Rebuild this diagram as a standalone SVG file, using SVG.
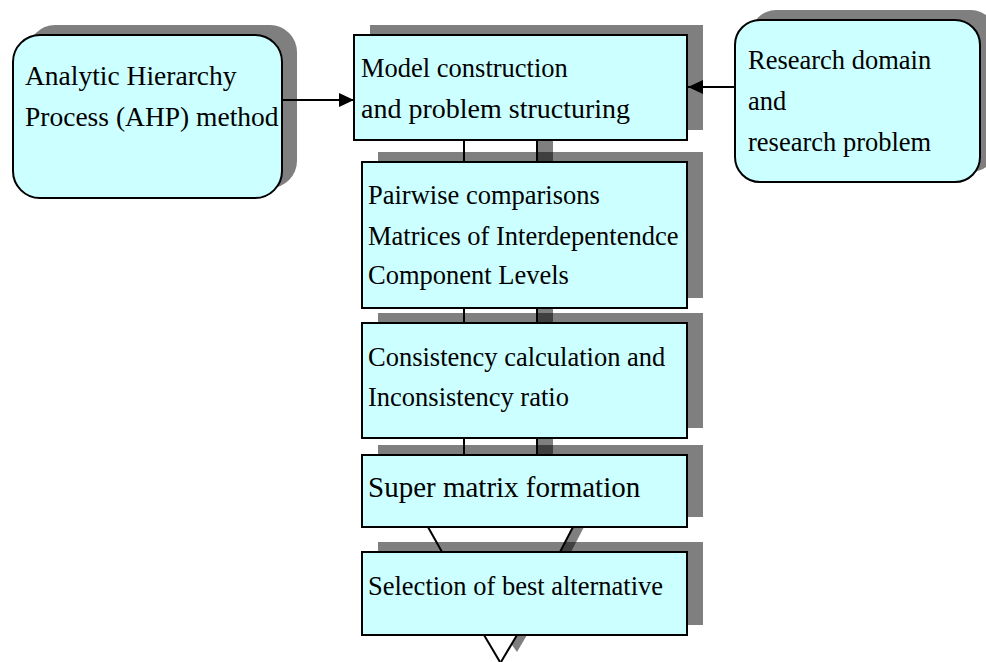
<svg xmlns="http://www.w3.org/2000/svg" width="986" height="662" viewBox="0 0 986 662">
<style>
.box{fill:#CCFFFF;stroke:#000;stroke-width:2}
.sh{fill:#000;fill-opacity:0.5}
.ln{stroke:#000;stroke-width:2;fill:none}
.t{font-family:"Liberation Serif","Times New Roman",serif;font-size:26.5px;fill:#000}
</style>
<defs>
<marker id="ah" markerUnits="userSpaceOnUse" markerWidth="15" markerHeight="14" refX="15" refY="7" orient="auto">
<path d="M0,0 L15,7 L0,14 z" fill="#000"/>
</marker>
</defs>
<rect width="986" height="662" fill="#fff"/>
<g id="connectors">
<rect class="sh" x="537" y="140" width="16" height="22"/>
<rect class="sh" x="537" y="308" width="16" height="15"/>
<rect class="sh" x="537" y="438" width="16" height="17"/>
<polygon class="sh" points="573,527 584,527 571,552 560,552"/>
<polygon class="sh" points="517,635 527,635 517,652 511.5,644.3"/>
<line class="ln" x1="464" y1="140" x2="464" y2="162"/>
<line class="ln" x1="537" y1="140" x2="537" y2="162"/>
<line class="ln" x1="464" y1="308" x2="464" y2="323"/>
<line class="ln" x1="537" y1="308" x2="537" y2="323"/>
<line class="ln" x1="464" y1="438" x2="464" y2="455"/>
<line class="ln" x1="537" y1="438" x2="537" y2="455"/>
<line class="ln" x1="428" y1="527" x2="442" y2="552"/>
<line class="ln" x1="573" y1="527" x2="560" y2="552"/>
<line class="ln" x1="484" y1="635" x2="500" y2="662"/>
<line class="ln" x1="517" y1="635" x2="501" y2="662"/>
<line class="ln" x1="282" y1="100" x2="354" y2="100" marker-end="url(#ah)"/>
<line class="ln" x1="735" y1="87" x2="688" y2="87" marker-end="url(#ah)"/>
</g>
<g id="ahp">
<rect class="sh" x="28" y="25" width="269" height="163" rx="27"/>
<rect class="box" x="13" y="35" width="269" height="163" rx="27"/>
<text class="t" x="25" y="85" style="font-size:27.5px">Analytic Hierarchy</text>
<text class="t" x="25" y="126" style="font-size:27.5px">Process (AHP) method</text>
</g>
<g id="research">
<rect class="sh" x="751" y="10" width="245" height="162" rx="25"/>
<rect class="box" x="735" y="20" width="245" height="162" rx="25"/>
<text class="t" x="748" y="69">Research domain</text>
<text class="t" x="748" y="110">and</text>
<text class="t" x="748" y="151">research problem</text>
</g>
<g id="model">
<rect class="sh" x="370" y="25" width="333" height="105"/>
<rect class="box" x="354" y="35" width="333" height="105"/>
<text class="t" x="361" y="77">Model construction</text>
<text class="t" x="361" y="118" style="font-size:28px">and problem structuring</text>
</g>
<g id="pairwise">
<rect class="sh" x="378" y="152" width="325" height="146"/>
<rect class="box" x="362" y="162" width="325" height="146"/>
<text class="t" x="368" y="204">Pairwise comparisons</text>
<text class="t" x="368" y="245">Matrices of Interdepentendce</text>
<text class="t" x="368" y="284">Component Levels</text>
</g>
<g id="consistency">
<rect class="sh" x="378" y="313" width="325" height="115"/>
<rect class="box" x="362" y="323" width="325" height="115"/>
<text class="t" x="368" y="366">Consistency calculation and</text>
<text class="t" x="368" y="406">Inconsistency ratio</text>
</g>
<g id="supermatrix">
<rect class="sh" x="378" y="445" width="325" height="72"/>
<rect class="box" x="362" y="455" width="325" height="72"/>
<text class="t" x="368" y="497" style="font-size:29px">Super matrix formation</text>
</g>
<g id="selection">
<rect class="sh" x="378" y="542" width="325" height="83"/>
<rect class="box" x="362" y="552" width="325" height="83"/>
<text class="t" x="368" y="595">Selection of best alternative</text>
</g>
</svg>
